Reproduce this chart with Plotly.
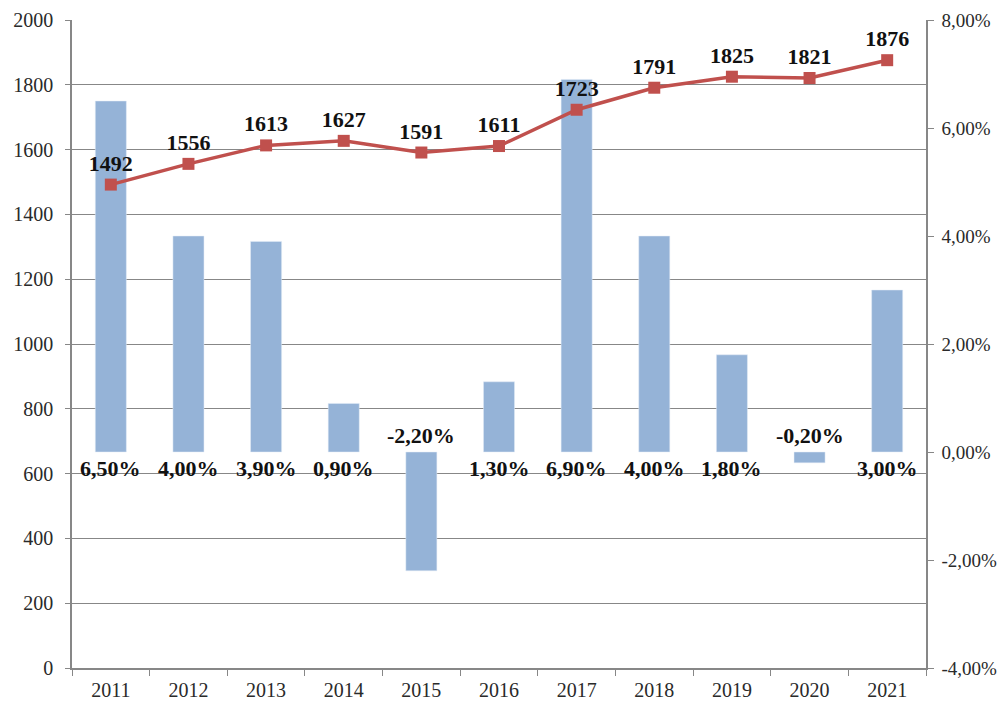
import plotly.graph_objects as go

years = ["2011", "2012", "2013", "2014", "2015", "2016", "2017", "2018", "2019", "2020", "2021"]
values = [1492, 1556, 1613, 1627, 1591, 1611, 1723, 1791, 1825, 1821, 1876]
growth = [6.5, 4.0, 3.9, 0.9, -2.2, 1.3, 6.9, 4.0, 1.8, -0.2, 3.0]
left_ticks = list(range(0, 2001, 200))
right_ticks = [-4, -2, 0, 2, 4, 6, 8]

def pct(v):
    return ("%.2f" % v).replace(".", ",") + "%"

FONT = "Liberation Serif"
BAR = "#95B3D7"
LINE = "#C0504D"
GRID = "#878787"
TXT = "#2a2a2a"

fig = go.Figure()
# bars on the primary axis (drawn first, below), shown on the right side
fig.add_trace(go.Bar(
    x=years, y=growth, yaxis="y", marker_color=BAR, width=0.40,
    hoverinfo="skip", showlegend=False,
))
# line on the overlaying axis (drawn on top), shown on the left side
fig.add_trace(go.Scatter(
    x=years, y=values, yaxis="y2", mode="lines+markers+text",
    line=dict(color=LINE, width=3.5),
    marker=dict(symbol="square", size=12, color=LINE),
    text=["<b>%d</b>" % v for v in values], textposition="top center",
    textfont=dict(family=FONT, size=22, color="#111111"),
    showlegend=False,
))

for i, g in enumerate(growth):
    fig.add_annotation(
        x=i, y=0, xref="x", yref="y", text="<b>%s</b>" % pct(g),
        showarrow=False, yshift=(-16 if g >= 0 else 17),
        font=dict(family=FONT, size=22, color="#111111"),
    )

fig.update_layout(
    width=1006, height=706,
    margin=dict(l=64, r=88, t=12, b=46),
    paper_bgcolor="white", plot_bgcolor="white",
    font=dict(family=FONT, size=20, color=TXT),
    xaxis=dict(
        type="category", range=[-0.5, 10.5], autorange=False, automargin=False,
        showline=True, linecolor=GRID, linewidth=1.5,
        ticks="outside", tickson="boundaries", ticklen=6, tickcolor=GRID,
        ticklabelstandoff=3,
        showgrid=False, tickfont=dict(size=20, color=TXT), tickangle=0,
    ),
    yaxis=dict(
        range=[-4, 8], tickvals=right_ticks, ticktext=[pct(v) for v in right_ticks],
        side="right", showgrid=False, showline=True, automargin=False,
        linecolor=GRID, linewidth=1.5, ticks="outside", ticklen=6, tickcolor=GRID,
        ticklabelstandoff=4,
        zeroline=False, tickfont=dict(size=19, color=TXT),
    ),
    yaxis2=dict(
        range=[0, 2000], tickvals=left_ticks, overlaying="y", side="left",
        showgrid=True, gridcolor=GRID, gridwidth=1.2, showline=True,
        automargin=False, ticklabelstandoff=8,
        linecolor=GRID, linewidth=1.5, ticks="outside", ticklen=5,
        tickcolor=GRID, zeroline=False, tickfont=dict(size=20, color=TXT),
    ),
)

fig.write_html("out.html")
